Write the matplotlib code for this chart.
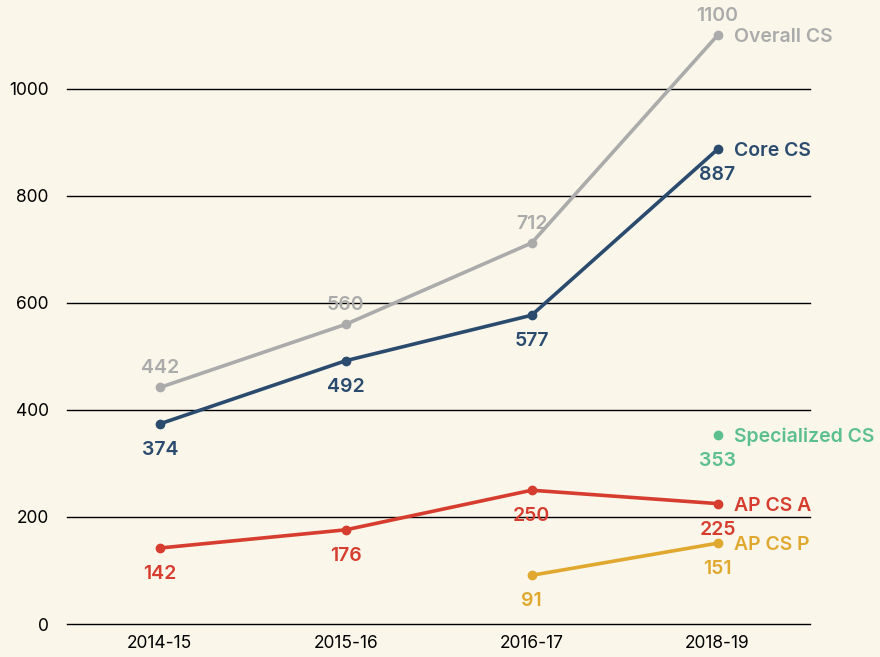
import matplotlib.pyplot as plt

plt.rcParams['font.family'] = ['Inter', 'DejaVu Sans']

years = ['2014-15', '2015-16', '2016-17', '2018-19']
overall = [442, 560, 712, 1100]
core = [374, 492, 577, 887]
ap_a = [142, 176, 250, 225]
ap_p_x = [2, 3]
ap_p = [91, 151]
spec_x = [3]
spec = [353]

bg = '#faf6ea'
fig = plt.figure(figsize=(8.8, 6.57), dpi=100, facecolor=bg)
ax = fig.add_axes([0.076, 0.0502, 0.845, 0.896], facecolor=bg)

series = [
    ('Overall CS', [0, 1, 2, 3], overall, '#ababab', 'above'),
    ('Core CS', [0, 1, 2, 3], core, '#2a4a6e', 'below'),
    ('AP CS A', [0, 1, 2, 3], ap_a, '#d63d2e', 'below'),
    ('AP CS P', ap_p_x, ap_p, '#e0a82e', 'below'),
    ('Specialized CS', spec_x, spec, '#5cbf8e', 'below'),
]

for name, xs, ys, col, pos in series:
    ax.plot(xs, ys, color=col, lw=2.6, marker='o', ms=6, clip_on=False, zorder=3)
    for x, y in zip(xs, ys):
        dy = 21 if pos == 'above' else -24
        ax.annotate(str(y), (x, y), xytext=(0, dy), textcoords='offset pixels',
                    ha='center', va='center_baseline', fontsize=14, fontweight='semibold', color=col)
    ax.annotate(name, (xs[-1], ys[-1]), xytext=(16, 0), textcoords='offset pixels',
                ha='left', va='center_baseline', fontsize=14, fontweight='semibold', color=col)

ax.set_xlim(-0.5, 3.5)
ax.set_ylim(0, 1100)
ax.set_xticks(range(len(years)))
ax.set_xticklabels(years)
ax.set_yticks([0, 200, 400, 600, 800, 1000])
ax.tick_params(length=0, labelsize=12.5, colors='black', pad=8)
ax.tick_params(axis='y', pad=13)
for y in [0, 200, 400, 600, 800, 1000]:
    ax.axhline(y, color='black', lw=1, zorder=1, clip_on=False)
for s in ax.spines.values():
    s.set_visible(False)

fig.savefig('out.png', dpi=100, facecolor=bg)
